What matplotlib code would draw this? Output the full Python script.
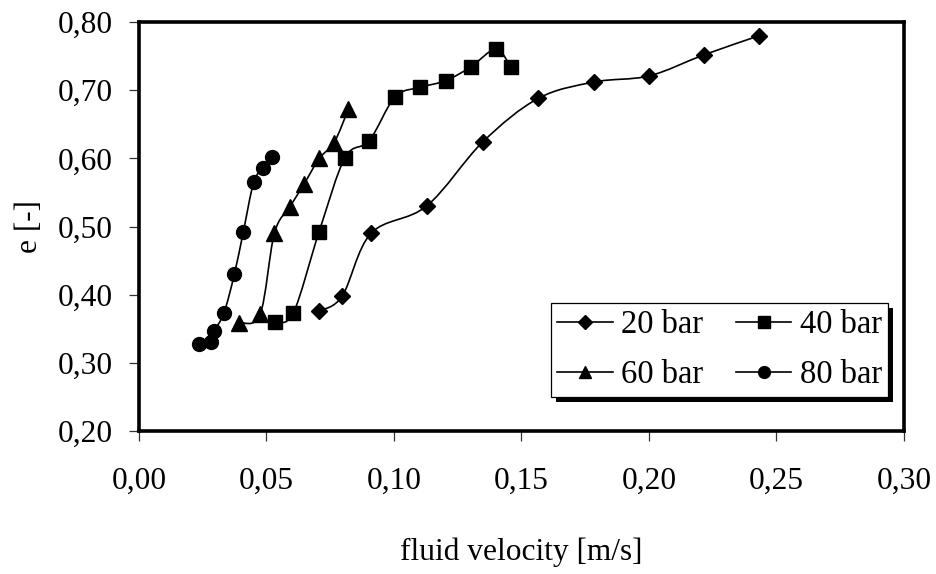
import numpy as np
import matplotlib
matplotlib.use('Agg')
import matplotlib.pyplot as plt
import matplotlib.patheffects as pe
from matplotlib.path import Path
from matplotlib.patches import PathPatch
from matplotlib.lines import Line2D
from matplotlib.ticker import FuncFormatter, MultipleLocator

plt.rcParams['font.family'] = ['Liberation Serif', 'DejaVu Serif']

# data
v20 = [0.0707, 0.0797, 0.0910, 0.1128, 0.1348, 0.1566, 0.1786, 0.2001, 0.2217, 0.2433]
e20 = [0.376, 0.398, 0.490, 0.530, 0.624, 0.688, 0.712, 0.721, 0.752, 0.780]

v40 = [0.0533, 0.0605, 0.0706, 0.0808, 0.0903, 0.1004, 0.1102, 0.1203, 0.1301, 0.1399, 0.1459]
e40 = [0.360, 0.373, 0.492, 0.601, 0.626, 0.690, 0.704, 0.714, 0.734, 0.760, 0.734]

v60 = [0.0393, 0.0475, 0.0531, 0.0592, 0.0647, 0.0707, 0.0765, 0.0821]
e60 = [0.359, 0.371, 0.490, 0.529, 0.562, 0.600, 0.623, 0.672]

v80 = [0.0237, 0.0282, 0.0294, 0.0333, 0.0374, 0.0409, 0.0450, 0.0488, 0.0523]
e80 = [0.327, 0.331, 0.346, 0.373, 0.430, 0.492, 0.565, 0.586, 0.602]

labels = ['20 bar', '40 bar', '60 bar', '80 bar']
markers = ['D', 's', '^', 'o']
msizes = [8, 10, 11, 10]


def smooth_path(x, y):
    # Excel-like smoothed line: cubic Bezier segments, Catmull-Rom control points
    pts = np.column_stack([x, y])
    n = len(pts)
    verts = [pts[0]]
    codes = [Path.MOVETO]
    for i in range(n - 1):
        p0 = pts[i - 1] if i > 0 else pts[i]
        p1 = pts[i]
        p2 = pts[i + 1]
        p3 = pts[i + 2] if i + 2 < n else pts[i + 1]
        c1 = p1 + (p2 - p0) / 6.0
        c2 = p2 - (p3 - p1) / 6.0
        verts += [c1, c2, p2]
        codes += [Path.CURVE4] * 3
    return Path(verts, codes)


fig = plt.figure(figsize=(9.36, 5.74), dpi=100)
ax = fig.add_axes([0.1485, 0.2491, 0.8173, 0.7126])

series = [(v20, e20), (v40, e40), (v60, e60), (v80, e80)]
handles = []
for (xs, ys), m, ms, lab in zip(series, markers, msizes, labels):
    ax.add_patch(PathPatch(smooth_path(xs, ys), fill=False, ec='black', lw=1.2, zorder=2))
    ax.plot(xs, ys, linestyle='none', marker=m, ms=ms, color='black', zorder=3)
    handles.append(Line2D([], [], color='black', lw=1.2, marker=m, ms=ms * 0.85, label=lab))

ax.set_xlim(0, 0.30)
ax.set_ylim(0.20, 0.80)
ax.xaxis.set_major_locator(MultipleLocator(0.05))
ax.yaxis.set_major_locator(MultipleLocator(0.10))
comma = FuncFormatter(lambda v, p: f'{v:.2f}'.replace('.', ','))
ax.xaxis.set_major_formatter(comma)
ax.yaxis.set_major_formatter(comma)

for s in ax.spines.values():
    s.set_linewidth(2.6)
ax.tick_params(direction='out', length=7, width=0.9, labelsize=22.6, color='#333333')
ax.tick_params(axis='x', pad=19)
ax.tick_params(axis='y', pad=12)

ax.set_xlabel('fluid velocity [m/s]', fontsize=22.6, labelpad=30)
ax.set_ylabel('e [-]', fontsize=22.6, labelpad=10)

# row-wise order: 20, 40 / 60, 80
order = [0, 2, 1, 3]
leg = ax.legend(handles=[handles[i] for i in order], ncol=2, loc='upper left',
                bbox_to_anchor=(0.5385, 0.313), borderaxespad=0, fontsize=23.5,
                frameon=True, fancybox=False, framealpha=1,
                handlelength=1.7, handletextpad=0.25, columnspacing=1.0,
                labelspacing=0.6, borderpad=0.2)
frame = leg.get_frame()
frame.set_edgecolor('black')
frame.set_facecolor('white')
frame.set_linewidth(0.9)
frame.set_path_effects([pe.SimplePatchShadow(offset=(3.6, -3.6), shadow_rgbFace='black', alpha=1),
                        pe.Normal()])

fig.savefig('out.png', dpi=100)
